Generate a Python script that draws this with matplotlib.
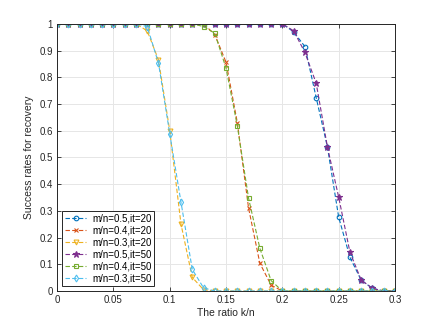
import numpy as np
import matplotlib.pyplot as plt

# ratio k/n
k_n = np.round(np.arange(0, 0.301, 0.01), 2)

# success rates
r05_it20 = [1]*21 + [0.97, 0.915, 0.724, 0.539, 0.276, 0.126, 0.04, 0.01, 0, 0]
r04_it20 = [1]*14 + [0.96, 0.856, 0.63, 0.31, 0.104, 0.022] + [0]*11
r03_it20 = [1]*8 + [0.974, 0.865, 0.60, 0.25, 0.051, 0.005] + [0]*17
r05_it50 = [1]*21 + [0.974, 0.893, 0.778, 0.539, 0.351, 0.145, 0.041, 0.01, 0, 0]
r04_it50 = [1]*13 + [0.99, 0.965, 0.834, 0.618, 0.347, 0.16, 0.039] + [0]*11
r03_it50 = [1]*8 + [0.99, 0.853, 0.589, 0.332, 0.081, 0.012] + [0]*17

labels = ["m/n=0.5,it=20", "m/n=0.4,it=20", "m/n=0.3,it=20",
          "m/n=0.5,it=50", "m/n=0.4,it=50", "m/n=0.3,it=50"]
series = [r05_it20, r04_it20, r03_it20, r05_it50, r04_it50, r03_it50]
colors = ["#0072BD", "#D95319", "#EDB120", "#7E2F8E", "#77AC30", "#4DBEEE"]
markers = ["o", "x", "v", "*", "s", "d"]
msizes = [3.3, 3, 3.5, 4.5, 2.8, 3.5]

plt.rcParams["font.family"] = "Liberation Sans"
fig = plt.figure(figsize=(4.36, 3.27), dpi=100)
ax = fig.add_axes([0.131, 0.110, 0.775, 0.817])

for y, lab, c, m, ms in zip(series, labels, colors, markers, msizes):
    ax.plot(k_n, y, linestyle=(0, (4, 2)), color=c, linewidth=0.8,
            marker=m, markersize=ms, markerfacecolor="none" if m not in ("x", "*") else c,
            markeredgewidth=0.8, label=lab)

ax.set_xlim(0, 0.3)
ax.set_ylim(0, 1)
ax.set_xticks(np.arange(0, 0.301, 0.05))
ax.set_xticklabels(["0", "0.05", "0.1", "0.15", "0.2", "0.25", "0.3"])
ax.set_yticks(np.arange(0, 1.01, 0.1))
ax.set_yticklabels(["0", "0.1", "0.2", "0.3", "0.4", "0.5", "0.6", "0.7", "0.8", "0.9", "1"])
ax.tick_params(direction="in", labelsize=7, length=3, width=0.6,
               top=True, right=True, colors="#262626", pad=3)
ax.grid(True, color="#e6e6e6", linewidth=0.7)
ax.set_axisbelow(True)
for s in ax.spines.values():
    s.set_color("#262626")
    s.set_linewidth(0.7)

ax.set_xlabel("The ratio k/n", fontsize=7.5, color="#262626", labelpad=2)
ax.set_ylabel("Success rates for recovery", fontsize=7.5, color="#262626", labelpad=4)

leg = ax.legend(loc="lower left", fontsize=7, frameon=True, fancybox=False,
                edgecolor="#262626", framealpha=1, handlelength=2.2,
                labelspacing=0.2, borderpad=0.3, handletextpad=0.6,
                borderaxespad=0.5)
leg.get_frame().set_linewidth(0.7)

fig.savefig("out.png", dpi=100)
